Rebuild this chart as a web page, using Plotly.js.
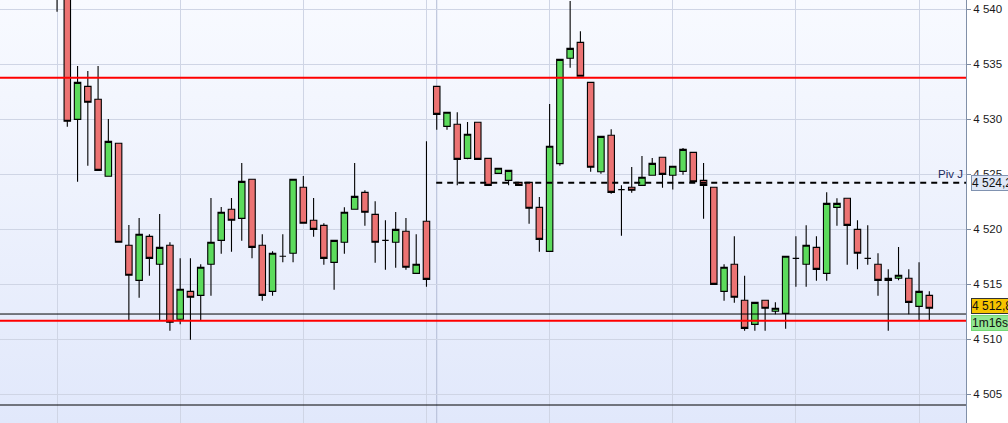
<!DOCTYPE html>
<html>
<head>
<meta charset="utf-8">
<script src="https://cdn.plot.ly/plotly-3.0.1.min.js"></script>
<style>
  html, body { margin: 0; padding: 0; background: #ffffff; }
  #chart {
    width: 1008px; height: 423px;
    background-color: #ffffff;
    background-image: linear-gradient(to bottom, #f8faff 0%, #eef2fd 45%, #e1e8fb 100%);
    background-size: 966px 423px;
    background-repeat: no-repeat;
  }
</style>
</head>
<body>
<div id="chart"></div>
<script>
// ---- data ----
const openPrices = [
  4544.50, 4543.20, 4529.97, 4532.97, 4531.79, 4524.79, 4527.79, 4518.52, 4515.33, 4519.33,
  4516.79, 4518.52, 4511.79, 4514.33, 4513.97, 4516.79, 4518.97, 4521.79, 4520.97, 4524.52,
  4518.52, 4514.33, 4517.52, 4517.79, 4523.79, 4520.79, 4520.33, 4516.97, 4518.79, 4521.79,
  4523.33, 4521.33, 4518.97, 4518.79, 4519.79, 4515.97, 4520.70, 4532.97, 4529.33, 4529.52,
  4526.42, 4529.70, 4526.42, 4525.06, 4524.42, 4524.24, 4524.24, 4521.97, 4517.97, 4525.94,
  4535.52, 4536.97, 4533.33, 4525.21, 4528.52, 4523.58, 4523.79, 4523.97, 4524.88, 4526.52,
  4524.88, 4525.24, 4526.97, 4524.42, 4523.79, 4514.33, 4516.79, 4513.52, 4511.33, 4513.52,
  4512.52, 4512.33, 4517.33, 4516.79, 4518.33, 4515.97, 4521.97, 4522.79, 4519.97, 4517.33,
  4516.79, 4515.52, 4515.52, 4515.52, 4512.97, 4513.97
];
const highPrices = [
  4545.50, 4543.60, 4534.82, 4534.36, 4534.82, 4530.00, 4527.79, 4520.36, 4521.00, 4519.52,
  4521.36, 4518.79, 4517.33, 4517.33, 4516.79, 4522.82, 4522.00, 4522.82, 4526.00, 4524.52,
  4519.52, 4517.97, 4519.52, 4524.52, 4524.82, 4522.82, 4520.52, 4518.97, 4521.97, 4526.00,
  4523.52, 4522.52, 4520.79, 4521.55, 4521.00, 4519.52, 4527.97, 4532.97, 4530.61, 4530.61,
  4529.73, 4529.70, 4526.42, 4525.52, 4525.33, 4524.24, 4524.24, 4522.91, 4531.36, 4535.42,
  4540.73, 4537.97, 4533.33, 4528.42, 4529.06, 4523.97, 4525.64, 4526.64, 4526.45, 4526.52,
  4525.70, 4527.36, 4526.97, 4526.00, 4523.79, 4516.79, 4519.33, 4515.76, 4513.33, 4513.52,
  4513.33, 4517.52, 4519.33, 4520.33, 4519.33, 4523.33, 4522.79, 4522.79, 4520.79, 4520.33,
  4517.79, 4516.33, 4518.36, 4516.33, 4516.97, 4514.33
];
const lowPrices = [
  4539.76, 4529.30, 4524.30, 4525.76, 4525.33, 4524.79, 4518.79, 4511.73, 4513.76, 4515.76,
  4511.73, 4510.76, 4511.33, 4509.94, 4511.73, 4513.94, 4517.76, 4517.94, 4518.94, 4517.33,
  4513.48, 4513.94, 4516.97, 4516.97, 4520.52, 4519.30, 4516.76, 4514.48, 4517.76, 4521.79,
  4520.30, 4516.94, 4516.30, 4516.48, 4516.30, 4515.97, 4514.76, 4529.03, 4529.03, 4523.97,
  4526.33, 4526.33, 4523.97, 4525.06, 4523.97, 4523.97, 4520.48, 4517.94, 4517.97, 4525.76,
  4534.67, 4533.88, 4525.21, 4525.03, 4523.21, 4519.39, 4523.30, 4523.97, 4524.88, 4523.76,
  4523.58, 4524.94, 4524.30, 4520.94, 4514.97, 4513.48, 4513.30, 4510.76, 4510.76, 4510.76,
  4512.24, 4510.94, 4514.76, 4514.76, 4515.30, 4515.30, 4520.30, 4516.76, 4516.33, 4516.76,
  4513.94, 4510.76, 4515.33, 4512.24, 4511.70, 4511.70
];
const closePrices = [
  4543.20, 4529.79, 4533.33, 4531.52, 4525.33, 4527.97, 4518.79, 4515.79, 4519.52, 4517.33,
  4518.33, 4511.52, 4514.52, 4513.79, 4516.52, 4518.79, 4521.52, 4520.79, 4524.33, 4518.33,
  4513.97, 4517.79, 4517.52, 4524.52, 4520.52, 4519.97, 4517.33, 4518.97, 4521.52, 4522.97,
  4521.52, 4518.79, 4518.97, 4519.97, 4516.52, 4516.79, 4515.42, 4530.42, 4530.61, 4526.33,
  4528.61, 4526.33, 4523.97, 4525.52, 4525.33, 4523.97, 4521.88, 4519.06, 4527.52, 4535.42,
  4536.42, 4533.88, 4525.61, 4528.42, 4523.33, 4523.58, 4523.52, 4524.70, 4525.97, 4524.97,
  4525.70, 4527.24, 4524.30, 4523.97, 4514.97, 4516.52, 4513.79, 4510.97, 4513.33, 4512.79,
  4512.79, 4517.52, 4517.33, 4518.52, 4516.33, 4522.33, 4522.33, 4520.33, 4517.79, 4517.33,
  4515.33, 4515.33, 4515.79, 4513.33, 4514.33, 4512.79
];
const gridEvery = 12;              // candles between vertical grid lines
const sessionStartIndex = 37;      // new-day separator / pivot start
const pivotLevel = 4524.2;
const pivotLabel = "Piv J";
const redLevels = [4533.75, 4511.66];
const blackLevels = [4512.27, 4504.0];
const timerLabel = "1m16s";
const yTicks = [4505, 4510, 4515, 4520, 4525, 4530, 4535, 4540];

// ---- build ----
const candleX = openPrices.map((_, i) => i);
const lastClose = closePrices[closePrices.length - 1];
const fmtPrice = v => {
  const s = v.toFixed(1).split(".");
  return s[0].replace(/\B(?=(\d{3})+(?!\d))/g, " ") + "," + s[1];
};
const X_RANGE = [-5.558, 88.575];
const Y_RANGE = [4502.364, 4540.818];

const trace = {
  type: "candlestick",
  x: candleX,
  open: openPrices, high: highPrices, low: lowPrices, close: closePrices,
  increasing: { fillcolor: "#5cdb5c", line: { color: "#000000", width: 1.1 } },
  decreasing: { fillcolor: "#ec7373", line: { color: "#000000", width: 1.1 } },
  whiskerwidth: 0,
  hoverinfo: "skip",
  showlegend: false
};

const shapes = [];
shapes.push({ type: "line", layer: "below", xref: "x", yref: "paper",
  x0: sessionStartIndex, x1: sessionStartIndex, y0: 0, y1: 1,
  line: { color: "#b2bbd5", width: 1 } });
redLevels.forEach(v => shapes.push({ type: "line", xref: "paper", yref: "y",
  x0: 0, x1: 1, y0: v, y1: v, line: { color: "#ff0000", width: 2 } }));
blackLevels.forEach(v => shapes.push({ type: "line", xref: "paper", yref: "y",
  x0: 0, x1: 1, y0: v, y1: v, line: { color: "#000000", width: 1 } }));
shapes.push({ type: "line", xref: "x", yref: "y",
  x0: sessionStartIndex - 0.05, x1: X_RANGE[1], y0: pivotLevel, y1: pivotLevel,
  line: { color: "#000000", width: 2, dash: "6px,5px" } });

const lblFont = { family: "Liberation Sans, Arial, sans-serif", size: 12, color: "#111111" };
const annotations = [
  { xref: "paper", yref: "y", x: 1, y: pivotLevel, xanchor: "right", yanchor: "bottom",
    xshift: -1, yshift: 1, showarrow: false, text: pivotLabel,
    font: { family: "Liberation Sans, Arial, sans-serif", size: 11.5, color: "#1b2a5c" } },
  { xref: "paper", yref: "y", x: 1, y: pivotLevel, xanchor: "left", yanchor: "middle",
    xshift: 5, yshift: 0, showarrow: false, text: fmtPrice(pivotLevel),
    bgcolor: "#dfe7f6", bordercolor: "#8092b0", borderwidth: 1, borderpad: 0, font: lblFont },
  { xref: "paper", yref: "y", x: 1, y: lastClose, xanchor: "left", yanchor: "middle",
    xshift: 5, yshift: 2, showarrow: false, text: fmtPrice(lastClose),
    bgcolor: "#f6c400", bordercolor: "#333333", borderwidth: 1, borderpad: 0, font: lblFont },
  { xref: "paper", yref: "y", x: 1, y: lastClose, xanchor: "left", yanchor: "middle",
    xshift: 5, yshift: -14.5, showarrow: false, text: timerLabel,
    bgcolor: "#93e893", bordercolor: "#73d873", borderwidth: 1, borderpad: 0, font: lblFont }
];

const layout = {
  width: 1008, height: 423,
  margin: { l: 0, r: 42, t: 0, b: 0, pad: 0 },
  paper_bgcolor: "rgba(0,0,0,0)",
  plot_bgcolor: "rgba(0,0,0,0)",
  separators: ", ",
  boxgap: 0.1,
  showlegend: false,
  xaxis: {
    range: X_RANGE, showticklabels: false, ticks: "",
    tick0: 0, dtick: gridEvery, showgrid: true, gridcolor: "#cfd5e5", gridwidth: 1,
    zeroline: false, showline: false, rangeslider: { visible: false }, fixedrange: true
  },
  yaxis: {
    side: "right", range: Y_RANGE,
    tickmode: "array", tickvals: yTicks, tickformat: ",.0f",
    ticks: "outside", ticklen: 4, tickcolor: "#7d8ba3", tickwidth: 1,
    showline: true, linecolor: "#8190a8", linewidth: 1,
    showgrid: true, gridcolor: "#cfd5e5", gridwidth: 1, zeroline: false,
    tickfont: { family: "Liberation Sans, Arial, sans-serif", size: 11.5, color: "#1a1a1a" },
    fixedrange: true
  },
  shapes: shapes,
  annotations: annotations
};

Plotly.newPlot("chart", [trace], layout, { displayModeBar: false, staticPlot: true });
</script>
</body>
</html>
